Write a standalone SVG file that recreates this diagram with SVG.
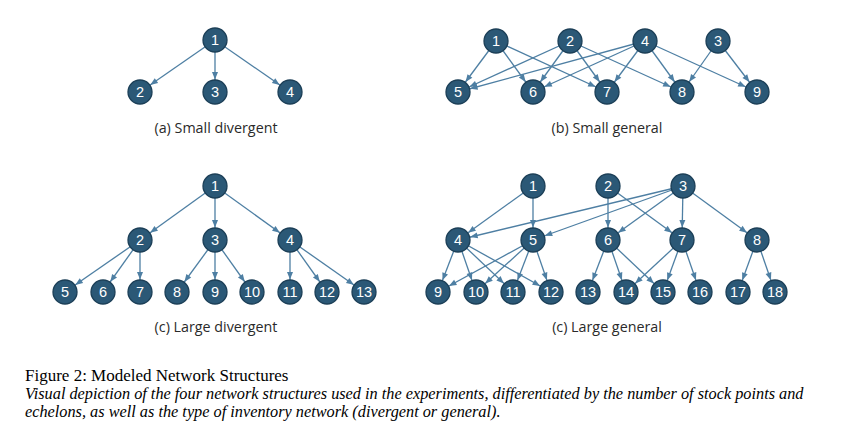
<svg xmlns="http://www.w3.org/2000/svg" width="841" height="435" viewBox="0 0 841 435">
<defs>
<marker id="arr" markerUnits="userSpaceOnUse" markerWidth="8" markerHeight="6" refX="20" refY="3" orient="auto" overflow="visible">
<path d="M0,0 L7.5,3 L0,6 Z" fill="#4E7FA3"/>
</marker>
<style>
.n circle{fill:#2B5876;stroke:#1C3F57;stroke-width:1.3}
.n text{fill:#ffffff;font-family:"Liberation Sans",Arial,sans-serif;font-size:14.5px;text-anchor:middle}
.e line{stroke:#4E7FA3;stroke-width:1.3;marker-end:url(#arr)}
.lbl{font-family:"Open Sans","Liberation Sans",sans-serif;font-size:14.3px;fill:#2a2a2a;text-anchor:middle}
.cap{font-family:"Liberation Serif","Times New Roman",serif;font-size:17px;fill:#000}
.it{font-style:italic;font-size:16.3px}
</style>
</defs>
<rect width="841" height="435" fill="#ffffff"/>

<g id="connectors" class="e">
<!-- (a) -->
<line x1="215" y1="40" x2="140" y2="92"/>
<line x1="215" y1="40" x2="215" y2="92"/>
<line x1="215" y1="40" x2="290" y2="92"/>
<!-- (b) -->
<line x1="496" y1="41" x2="458" y2="92"/>
<line x1="496" y1="41" x2="533" y2="92"/>
<line x1="496" y1="41" x2="607" y2="92"/>
<line x1="570" y1="41" x2="458" y2="92"/>
<line x1="570" y1="41" x2="533" y2="92"/>
<line x1="570" y1="41" x2="607" y2="92"/>
<line x1="570" y1="41" x2="682" y2="92"/>
<line x1="645" y1="41" x2="458" y2="92"/>
<line x1="645" y1="41" x2="533" y2="92"/>
<line x1="645" y1="41" x2="607" y2="92"/>
<line x1="645" y1="41" x2="682" y2="92"/>
<line x1="645" y1="41" x2="757" y2="92"/>
<line x1="718" y1="41" x2="682" y2="92"/>
<line x1="718" y1="41" x2="757" y2="92"/>
<!-- (c) -->
<line x1="215" y1="186" x2="140" y2="240"/>
<line x1="215" y1="186" x2="215" y2="240"/>
<line x1="215" y1="186" x2="290" y2="240"/>
<line x1="140" y1="240" x2="65" y2="292"/>
<line x1="140" y1="240" x2="103" y2="292"/>
<line x1="140" y1="240" x2="140" y2="292"/>
<line x1="215" y1="240" x2="177" y2="292"/>
<line x1="215" y1="240" x2="215" y2="292"/>
<line x1="215" y1="240" x2="252" y2="292"/>
<line x1="290" y1="240" x2="290" y2="292"/>
<line x1="290" y1="240" x2="327" y2="292"/>
<line x1="290" y1="240" x2="364" y2="292"/>
<!-- (d) -->
<line x1="533" y1="186" x2="458" y2="240"/>
<line x1="533" y1="186" x2="533" y2="240"/>
<line x1="608" y1="186" x2="608" y2="240"/>
<line x1="608" y1="186" x2="682" y2="240"/>
<line x1="683" y1="186" x2="458" y2="240"/>
<line x1="683" y1="186" x2="533" y2="240"/>
<line x1="683" y1="186" x2="608" y2="240"/>
<line x1="683" y1="186" x2="682" y2="240"/>
<line x1="683" y1="186" x2="757" y2="240"/>
<line x1="458" y1="240" x2="438" y2="292"/>
<line x1="458" y1="240" x2="476" y2="292"/>
<line x1="458" y1="240" x2="513" y2="292"/>
<line x1="458" y1="240" x2="551" y2="292"/>
<line x1="533" y1="240" x2="438" y2="292"/>
<line x1="533" y1="240" x2="476" y2="292"/>
<line x1="533" y1="240" x2="513" y2="292"/>
<line x1="533" y1="240" x2="551" y2="292"/>
<line x1="608" y1="240" x2="588" y2="292"/>
<line x1="608" y1="240" x2="626" y2="292"/>
<line x1="608" y1="240" x2="663" y2="292"/>
<line x1="682" y1="240" x2="626" y2="292"/>
<line x1="682" y1="240" x2="663" y2="292"/>
<line x1="682" y1="240" x2="700" y2="292"/>
<line x1="757" y1="240" x2="738" y2="292"/>
<line x1="757" y1="240" x2="775" y2="292"/>
</g>

<!-- (a) nodes -->
<g id="a1" class="n"><circle cx="215" cy="40" r="12"/><text x="215" y="45">1</text></g>
<g id="a2" class="n"><circle cx="140" cy="92" r="12"/><text x="140" y="97">2</text></g>
<g id="a3" class="n"><circle cx="215" cy="92" r="12"/><text x="215" y="97">3</text></g>
<g id="a4" class="n"><circle cx="290" cy="92" r="12"/><text x="290" y="97">4</text></g>

<!-- (b) nodes -->
<g id="b1" class="n"><circle cx="496" cy="41" r="12"/><text x="496" y="46">1</text></g>
<g id="b2" class="n"><circle cx="570" cy="41" r="12"/><text x="570" y="46">2</text></g>
<g id="b4" class="n"><circle cx="645" cy="41" r="12"/><text x="645" y="46">4</text></g>
<g id="b3" class="n"><circle cx="718" cy="41" r="12"/><text x="718" y="46">3</text></g>
<g id="b5" class="n"><circle cx="458" cy="92" r="12"/><text x="458" y="97">5</text></g>
<g id="b6" class="n"><circle cx="533" cy="92" r="12"/><text x="533" y="97">6</text></g>
<g id="b7" class="n"><circle cx="607" cy="92" r="12"/><text x="607" y="97">7</text></g>
<g id="b8" class="n"><circle cx="682" cy="92" r="12"/><text x="682" y="97">8</text></g>
<g id="b9" class="n"><circle cx="757" cy="92" r="12"/><text x="757" y="97">9</text></g>

<!-- (c) nodes -->
<g id="c1" class="n"><circle cx="215" cy="186" r="12"/><text x="215" y="191">1</text></g>
<g id="c2" class="n"><circle cx="140" cy="240" r="12"/><text x="140" y="245">2</text></g>
<g id="c3" class="n"><circle cx="215" cy="240" r="12"/><text x="215" y="245">3</text></g>
<g id="c4" class="n"><circle cx="290" cy="240" r="12"/><text x="290" y="245">4</text></g>
<g id="c5" class="n"><circle cx="65" cy="292" r="12"/><text x="65" y="297">5</text></g>
<g id="c6" class="n"><circle cx="103" cy="292" r="12"/><text x="103" y="297">6</text></g>
<g id="c7" class="n"><circle cx="140" cy="292" r="12"/><text x="140" y="297">7</text></g>
<g id="c8" class="n"><circle cx="177" cy="292" r="12"/><text x="177" y="297">8</text></g>
<g id="c9" class="n"><circle cx="215" cy="292" r="12"/><text x="215" y="297">9</text></g>
<g id="c10" class="n"><circle cx="252" cy="292" r="12"/><text x="252" y="297">10</text></g>
<g id="c11" class="n"><circle cx="290" cy="292" r="12"/><text x="290" y="297">11</text></g>
<g id="c12" class="n"><circle cx="327" cy="292" r="12"/><text x="327" y="297">12</text></g>
<g id="c13" class="n"><circle cx="364" cy="292" r="12"/><text x="364" y="297">13</text></g>

<!-- (d) nodes -->
<g id="d1" class="n"><circle cx="533" cy="186" r="12"/><text x="533" y="191">1</text></g>
<g id="d2" class="n"><circle cx="608" cy="186" r="12"/><text x="608" y="191">2</text></g>
<g id="d3" class="n"><circle cx="683" cy="186" r="12"/><text x="683" y="191">3</text></g>
<g id="d4" class="n"><circle cx="458" cy="240" r="12"/><text x="458" y="245">4</text></g>
<g id="d5" class="n"><circle cx="533" cy="240" r="12"/><text x="533" y="245">5</text></g>
<g id="d6" class="n"><circle cx="608" cy="240" r="12"/><text x="608" y="245">6</text></g>
<g id="d7" class="n"><circle cx="682" cy="240" r="12"/><text x="682" y="245">7</text></g>
<g id="d8" class="n"><circle cx="757" cy="240" r="12"/><text x="757" y="245">8</text></g>
<g id="d9" class="n"><circle cx="438" cy="292" r="12"/><text x="438" y="297">9</text></g>
<g id="d10" class="n"><circle cx="476" cy="292" r="12"/><text x="476" y="297">10</text></g>
<g id="d11" class="n"><circle cx="513" cy="292" r="12"/><text x="513" y="297">11</text></g>
<g id="d12" class="n"><circle cx="551" cy="292" r="12"/><text x="551" y="297">12</text></g>
<g id="d13" class="n"><circle cx="588" cy="292" r="12"/><text x="588" y="297">13</text></g>
<g id="d14" class="n"><circle cx="626" cy="292" r="12"/><text x="626" y="297">14</text></g>
<g id="d15" class="n"><circle cx="663" cy="292" r="12"/><text x="663" y="297">15</text></g>
<g id="d16" class="n"><circle cx="700" cy="292" r="12"/><text x="700" y="297">16</text></g>
<g id="d17" class="n"><circle cx="738" cy="292" r="12"/><text x="738" y="297">17</text></g>
<g id="d18" class="n"><circle cx="775" cy="292" r="12"/><text x="775" y="297">18</text></g>

<g id="labels">
<text class="lbl" x="216" y="133">(a) Small divergent</text>
<text class="lbl" x="607" y="133">(b) Small general</text>
<text class="lbl" x="216" y="332">(c) Large divergent</text>
<text class="lbl" x="607" y="332">(c) Large general</text>
</g>

<g id="caption">
<text class="cap" x="25" y="381">Figure 2: Modeled Network Structures</text>
<text class="cap it" x="25" y="399">Visual depiction of the four network structures used in the experiments, differentiated by the number of stock points and</text>
<text class="cap it" x="25" y="416.5">echelons, as well as the type of inventory network (divergent or general).</text>
</g>
</svg>
